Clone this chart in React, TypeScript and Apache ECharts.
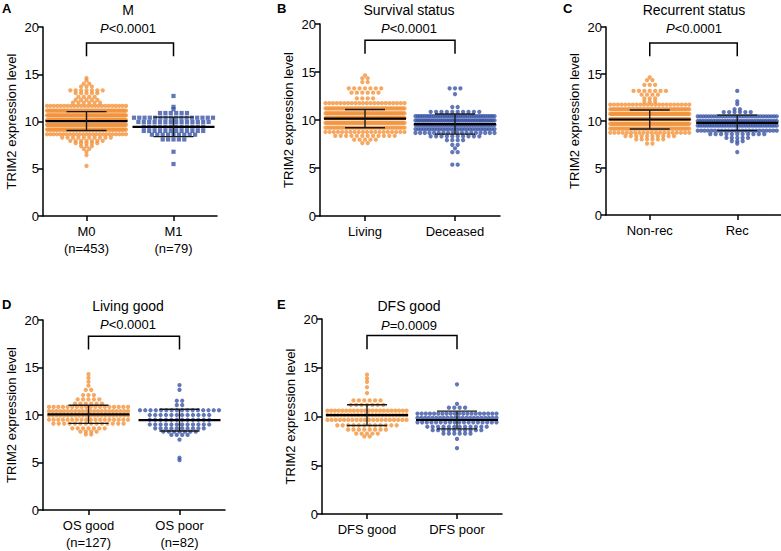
import React, { useEffect, useRef } from 'react';
import * as echarts from 'echarts';

const FONT = 'Liberation Sans, Arial, Helvetica, sans-serif';
const ORANGE = '#F3933C';
const BLUE = '#3A55A5';

const PANEL_LETTERS = ['A', 'B', 'C', 'D', 'E'];
const PANEL_TITLES = ['M', 'Survival status', 'Recurrent status', 'Living good', 'DFS good'];
const P_VALUES = ['<0.0001', '<0.0001', '<0.0001', '<0.0001', '=0.0009'];
const CATEGORIES = [
  ['M0\n(n=453)', 'M1\n(n=79)'],
  ['Living', 'Deceased'],
  ['Non-rec', 'Rec'],
  ['OS good\n(n=127)', 'OS poor\n(n=82)'],
  ['DFS good', 'DFS poor'],
];
const Y_AXIS_NAME = 'TRIM2 expression level';

// Dot rows: expression level of each row and number of dots in it
const M0_LEVELS = [14.6, 14.35, 14.0, 13.7, 13.3, 13.0, 12.6, 12.3, 12.0, 11.65, 11.15, 10.65, 10.15, 9.65, 9.15, 8.65, 8.3, 7.95, 7.7, 7.4, 7.1, 6.8, 6.45, 5.3];
const M0_COUNTS = [1, 1, 2, 3, 7, 5, 4, 5, 6, 24, 56, 72, 82, 74, 56, 25, 10, 7, 5, 3, 2, 1, 1, 1];
const M1_LEVELS = [12.7, 11.55, 11.3, 10.9, 10.4, 9.95, 9.45, 9.0, 8.6, 8.1, 6.8, 5.5];
const M1_COUNTS = [1, 1, 1, 6, 16, 14, 12, 12, 9, 5, 1, 1];

const LIVING_LEVELS = [14.65, 14.35, 13.95, 13.3, 12.85, 12.25, 11.75, 11.2, 10.7, 10.2, 9.7, 9.2, 8.75, 8.35, 7.95, 7.6];
const LIVING_COUNTS = [1, 2, 2, 7, 6, 4, 22, 45, 55, 60, 50, 35, 20, 12, 5, 2];
const DECEASED_LEVELS = [13.3, 12.7, 11.35, 10.85, 10.4, 9.95, 9.5, 9.05, 8.65, 8.3, 7.9, 7.4, 7.05, 6.65, 5.35];
const DECEASED_COUNTS = [3, 1, 2, 10, 36, 42, 39, 30, 18, 10, 4, 2, 1, 2, 2];

const NONREC_LEVELS = [14.65, 14.35, 13.85, 13.2, 12.8, 12.4, 12.05, 11.75, 11.25, 10.75, 10.2, 9.7, 9.2, 8.75, 8.4, 8.05, 7.6];
const NONREC_COUNTS = [1, 2, 3, 7, 4, 3, 3, 22, 48, 60, 66, 56, 40, 20, 10, 6, 2];
const REC_LEVELS = [13.2, 12.1, 11.8, 11.25, 10.95, 10.5, 10.0, 9.5, 8.97, 8.6, 8.2, 7.85, 7.6, 6.7];
const REC_COUNTS = [1, 1, 1, 2, 6, 30, 36, 34, 24, 11, 5, 3, 1, 1];

const OSGOOD_LEVELS = [14.3, 13.9, 13.5, 13.1, 12.65, 12.1, 11.65, 11.2, 10.85, 10.4, 9.95, 9.5, 9.1, 8.6, 8.25, 7.95];
const OSGOOD_COUNTS = [1, 1, 1, 1, 2, 3, 5, 6, 18, 22, 22, 18, 14, 7, 4, 2];
const OSPOOR_LEVELS = [13.15, 12.65, 11.5, 11.05, 10.5, 10.0, 9.5, 9.0, 8.6, 8.25, 7.9, 7.4, 5.5, 5.25];
const OSPOOR_COUNTS = [1, 1, 2, 2, 16, 12, 12, 12, 10, 7, 4, 1, 1, 1];

const DFSGOOD_LEVELS = [14.3, 13.9, 13.55, 13.0, 12.4, 11.65, 11.2, 10.6, 10.15, 9.65, 9.1, 8.65, 8.25, 7.95];
const DFSGOOD_COUNTS = [1, 1, 1, 1, 1, 6, 7, 22, 24, 20, 12, 8, 5, 2];
const DFSPOOR_LEVELS = [13.3, 11.3, 10.9, 10.3, 9.85, 9.4, 8.95, 8.6, 8.25, 7.7, 6.75];
const DFSPOOR_COUNTS = [1, 1, 4, 20, 22, 18, 12, 10, 6, 1, 1];

// mean and SD (error bars) per panel: [left group, right group]
const MEANS = [[10.04, 9.43], [10.15, 9.58], [10.16, 9.8], [10.07, 9.46], [10.14, 9.64]];
const SDS = [[1.0, 1.03], [0.95, 1.05], [1.01, 0.82], [0.95, 1.14], [1.06, 0.91]];

const GROUPS = [
  [[M0_LEVELS, M0_COUNTS], [M1_LEVELS, M1_COUNTS]],
  [[LIVING_LEVELS, LIVING_COUNTS], [DECEASED_LEVELS, DECEASED_COUNTS]],
  [[NONREC_LEVELS, NONREC_COUNTS], [REC_LEVELS, REC_COUNTS]],
  [[OSGOOD_LEVELS, OSGOOD_COUNTS], [OSPOOR_LEVELS, OSPOOR_COUNTS]],
  [[DFSGOOD_LEVELS, DFSGOOD_COUNTS], [DFSPOOR_LEVELS, DFSPOOR_COUNTS]],
];

// layout
const GRIDS = [
  { left: 43, top: 27, width: 174, height: 189 },
  { left: 320, top: 24, width: 180, height: 192 },
  { left: 606, top: 27, width: 175, height: 188 },
  { left: 43, top: 320, width: 182, height: 193 },
  { left: 322, top: 319, width: 180, height: 195 },
];
const LETTER_POS = [[2, 2], [277, 2], [563, 2], [2, 298], [277, 298]];
const TITLE_POS = [[128, 10, 28], [409, 10, 28], [694, 10, 28], [128, 306, 324], [409, 306, 325]];
const BRACKET_TOP = 18.3;
const BRACKET_FOOT = 16.9;

function swarm(levels: number[], counts: number[], center: number, unitPx: number) {
  const pts: number[][] = [];
  levels.forEach((y, r) => {
    const n = counts[r];
    const step = n > 1 ? Math.min(5.4, 79 / (n - 1)) : 0;
    for (let i = 0; i < n; i++) {
      pts.push([center + ((i - (n - 1) / 2) * step) / unitPx, y]);
    }
  });
  return pts;
}

function buildOption() {
  const grid: any[] = [];
  const xAxis: any[] = [];
  const yAxis: any[] = [];
  const series: any[] = [];
  const graphic: any[] = [];

  GRIDS.forEach((g, i) => {
    grid.push({ left: g.left, top: g.top, width: g.width, height: g.height, containLabel: false });
    const unitPx = g.width / 2;
    xAxis.push({
      gridIndex: i,
      type: 'value',
      min: 0,
      max: 2,
      axisLine: { show: true, onZero: false, lineStyle: { color: '#000', width: 1.5 } },
      axisTick: { show: true, customValues: [0.5, 1.5], length: 5, lineStyle: { color: '#000', width: 1.5 } },
      axisLabel: {
        customValues: [0.5, 1.5],
        formatter: (v: number) => (v < 1 ? CATEGORIES[i][0] : CATEGORIES[i][1]),
        color: '#000',
        fontSize: 13,
        lineHeight: 17,
        margin: 7,
        fontFamily: FONT,
      },
      splitLine: { show: false },
    });
    yAxis.push({
      gridIndex: i,
      type: 'value',
      min: 0,
      max: 20,
      interval: 5,
      name: Y_AXIS_NAME,
      nameLocation: 'middle',
      nameGap: 25,
      nameTextStyle: { color: '#000', fontSize: 13, fontFamily: FONT },
      axisLine: { show: true, lineStyle: { color: '#000', width: 1.5 } },
      axisTick: { show: true, length: 5, lineStyle: { color: '#000', width: 1.5 } },
      axisLabel: { color: '#000', fontSize: 13, margin: 4, fontFamily: FONT },
      splitLine: { show: false },
    });

    const [left, right] = GROUPS[i];
    series.push({
      type: 'scatter',
      xAxisIndex: i,
      yAxisIndex: i,
      symbol: 'circle',
      symbolSize: 4.3,
      itemStyle: { color: ORANGE },
      data: swarm(left[0], left[1], 0.5, unitPx),
      z: 2,
    });
    series.push({
      type: 'scatter',
      xAxisIndex: i,
      yAxisIndex: i,
      symbol: i === 0 ? 'rect' : 'circle',
      symbolSize: i === 0 ? 4.2 : 4.3,
      itemStyle: { color: BLUE },
      data: swarm(right[0], right[1], 1.5, unitPx),
      z: 2,
    });
    series.push({
      type: 'custom',
      xAxisIndex: i,
      yAxisIndex: i,
      z: 5,
      dimensions: ['x', 'mean', 'sd'],
      encode: { x: 0, y: 1 },
      data: [
        [0.5, MEANS[i][0], SDS[i][0]],
        [1.5, MEANS[i][1], SDS[i][1]],
      ],
      renderItem: (params: any, api: any) => {
        const c = api.value(0);
        const m = api.value(1);
        const s = api.value(2);
        const pm = api.coord([c, m]);
        const yh = api.coord([c, m + s])[1];
        const yl = api.coord([c, m - s])[1];
        const x = pm[0];
        const thin = { stroke: '#1a1a1a', lineWidth: 1.4 };
        return {
          type: 'group',
          children: [
            { type: 'line', shape: { x1: x - 41, y1: pm[1], x2: x + 41, y2: pm[1] }, style: { stroke: '#000', lineWidth: 2.2 } },
            { type: 'line', shape: { x1: x, y1: yh, x2: x, y2: yl }, style: thin },
            { type: 'line', shape: { x1: x - 20, y1: yh, x2: x + 20, y2: yh }, style: thin },
            { type: 'line', shape: { x1: x - 20, y1: yl, x2: x + 20, y2: yl }, style: thin },
          ],
        };
      },
    });
    series.push({
      type: 'custom',
      xAxisIndex: i,
      yAxisIndex: i,
      z: 5,
      encode: { x: [0, 1], y: [2, 3] },
      data: [[0.5, 1.5, BRACKET_TOP, BRACKET_FOOT]],
      renderItem: (params: any, api: any) => {
        const a = api.coord([api.value(0), api.value(3)]);
        const b = api.coord([api.value(0), api.value(2)]);
        const c = api.coord([api.value(1), api.value(2)]);
        const d = api.coord([api.value(1), api.value(3)]);
        return {
          type: 'polyline',
          shape: { points: [a, b, c, d] },
          style: { stroke: '#000', lineWidth: 1.5, fill: 'none' },
        };
      },
    });

    graphic.push({
      type: 'text',
      x: LETTER_POS[i][0],
      y: LETTER_POS[i][1],
      style: { text: PANEL_LETTERS[i], fontSize: 13, fontWeight: 'bold', fontFamily: FONT, fill: '#000', verticalAlign: 'top', textVerticalAlign: 'top' },
    });
    graphic.push({
      type: 'text',
      x: TITLE_POS[i][0],
      y: TITLE_POS[i][1],
      style: { text: PANEL_TITLES[i], fontSize: 14, fontFamily: FONT, fill: '#000', align: 'center', textAlign: 'center', verticalAlign: 'middle', textVerticalAlign: 'middle' },
    });
    graphic.push({
      type: 'text',
      x: TITLE_POS[i][0],
      y: TITLE_POS[i][2],
      style: {
        text: '{i|P}' + P_VALUES[i],
        fontSize: 13,
        fontFamily: FONT,
        fill: '#000',
        align: 'center',
        textAlign: 'center',
        verticalAlign: 'middle',
        textVerticalAlign: 'middle',
        rich: { i: { fontStyle: 'italic', fontSize: 13, fontFamily: FONT, fill: '#000', color: '#000' } },
      },
    });
  });

  return {
    animation: false,
    backgroundColor: '#fff',
    textStyle: { fontFamily: FONT },
    grid,
    xAxis,
    yAxis,
    series,
    graphic,
  };
}

export default function App() {
  const ref = useRef<HTMLDivElement>(null);
  useEffect(() => {
    document.body.style.margin = '0';
    if (!ref.current) return;
    const chart = echarts.init(ref.current, undefined, { renderer: 'svg' });
    chart.setOption(buildOption() as any);
    return () => chart.dispose();
  }, []);
  return <div ref={ref} style={{ width: 781, height: 551 }} />;
}
